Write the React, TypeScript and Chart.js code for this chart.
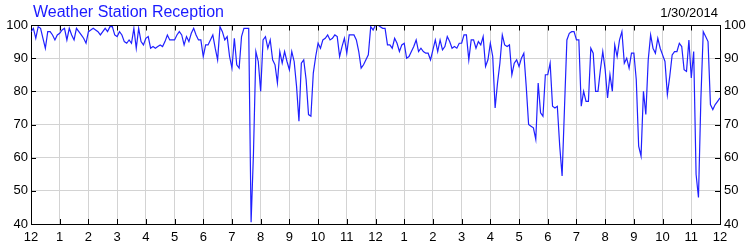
import React, { useEffect, useRef } from "react";
import { Chart, registerables } from "chart.js";

Chart.register(...registerables);

const chartTitle = "Weather Station Reception";
const chartDate = "1/30/2014";

// hour tick labels (midnight to midnight)
const hourLabels = ["12","1","2","3","4","5","6","7","8","9","10","11","12","1","2","3","4","5","6","7","8","9","10","11","12"];
const yTickValues = [40, 50, 60, 70, 80, 90, 100];

// reception %, one reading every 5 minutes
const midnightToSix = [
  98, 99, 96, 99.5, 99, 96, 93, 98, 98, 97, 95.5, 97,
  97.5, 98.5, 99, 95.5, 99, 97, 95.5, 99, 98, 97, 96, 94.5,
  98, 98.5, 99, 98.5, 98, 97, 98, 99, 98, 99.5, 99.5, 97,
  96.5, 98, 97, 95, 94.5, 95.5, 94.5, 99, 93, 99, 95, 94,
  96, 96.5, 93, 93.5, 93, 93.5, 94, 93.5, 95, 97, 95.5, 95.5,
  95.5, 97, 98, 97, 94, 96.5, 95, 97.5, 99, 97, 95.5, 95.5,
];
const sixToNoon = [
  90.5, 94, 94, 95.5, 97, 93, 89.5, 99.5, 98, 95.5, 96.5, 90.5,
  87, 96, 88, 87, 96.5, 99, 99, 99, 40.5, 61.5, 92, 89,
  80, 95.5, 96.5, 93, 95.5, 89.5, 88, 82.5, 92, 88.5, 92, 89,
  86.5, 92, 89, 81.5, 71, 88.5, 89.5, 83.5, 73, 72.5, 85.5, 90.5,
  94.5, 93, 95.5, 96, 97, 95.5, 96, 97, 96.5, 90.5, 93.5, 96,
  91.5, 97, 97, 97, 95.5, 92, 87, 88, 89.5, 91, 99.5, 98.5,
];
const noonToSix = [
  100, 100, 99.5, 99, 99, 94, 94, 93, 96, 94.5, 92, 94,
  94.5, 90, 90.5, 92, 93.5, 95.5, 92, 93, 92, 91.5, 91.5, 89.5,
  92.5, 95.5, 92, 95.5, 92.5, 93.5, 96.5, 95, 93, 93.5, 93, 94.5,
  94.5, 97, 97, 89.5, 95.5, 95.5, 93, 95, 94, 96.5, 87.5, 89.5,
  94.5, 90.5, 75, 82.5, 88.5, 97, 94, 93.5, 94, 85, 88.5, 89.5,
  87.5, 90, 91.5, 81.5, 70, 69.5, 69, 65.5, 82.5, 73.5, 72.5, 85,
];
const sixToMidnight = [
  85, 88.5, 75.5, 75, 75.5, 63.5, 54.5, 75, 95.5, 97.5, 98, 98,
  95.5, 95.5, 75.5, 80, 77, 77, 93, 91.5, 80, 80, 86.5, 92,
  86.5, 78, 85, 80, 94, 90.5, 95.5, 98, 88.5, 90, 87, 91.5,
  91.5, 83.5, 63.5, 60.5, 80, 73, 89.5, 97, 93, 91.5, 96, 93,
  91, 89, 79, 84.5, 91, 92, 92, 94.5, 93.5, 86.5, 86, 95.5,
  84, 92, 55, 48, 77.5, 98, 96.5, 95, 76, 74.5, 76, 77,
  78,
];

const FONT = '"Liberation Sans", Arial, sans-serif';

export default function App() {
  const ref = useRef<HTMLCanvasElement | null>(null);

  useEffect(() => {
    document.body.style.margin = "0";
    const canvas = ref.current;
    if (!canvas) return;
    const values = [...midnightToSix, ...sixToNoon, ...noonToSix, ...sixToMidnight];
    const points = values.map((v, i) => ({ x: i / 12, y: v }));

    const framePlugin = {
      id: "frame",
      afterDraw(chart: any) {
        const { ctx, chartArea, scales } = chart;
        const { left, right, top, bottom } = chartArea;
        ctx.save();
        ctx.strokeStyle = "#000";
        ctx.lineWidth = 1;
        ctx.beginPath();
        const t = Math.round(top) + 0.5;
        ctx.moveTo(Math.round(left), t);
        ctx.lineTo(Math.round(right) + 1, t);
        for (let h = 0; h <= 24; h++) {
          const x = Math.round(scales.x.getPixelForValue(h)) + 0.5;
          ctx.moveTo(x, Math.round(bottom));
          ctx.lineTo(x, Math.round(bottom) - 5);
          ctx.moveTo(x, t);
          ctx.lineTo(x, t + 5);
        }
        for (const v of yTickValues) {
          const y = Math.round(scales.y.getPixelForValue(v)) + 0.5;
          ctx.moveTo(Math.round(left), y);
          ctx.lineTo(Math.round(left) + 5, y);
          ctx.moveTo(Math.round(right), y);
          ctx.lineTo(Math.round(right) - 5, y);
        }
        ctx.stroke();
        ctx.font = `16px ${FONT}`;
        ctx.fillStyle = "#1a1aff";
        ctx.textAlign = "left";
        ctx.textBaseline = "alphabetic";
        ctx.fillText(chartTitle, 33, 17);
        ctx.font = `13px ${FONT}`;
        ctx.fillStyle = "#000";
        ctx.textAlign = "right";
        ctx.fillText(chartDate, 718, 17);
        ctx.restore();
      },
    };

    const chart = new Chart(canvas, {
      type: "line",
      data: {
        datasets: [
          {
            data: points,
            borderColor: "#2020ff",
            borderWidth: 1.2,
            pointRadius: 0,
            tension: 0,
            fill: false,
          },
        ],
      },
      options: {
        animation: false,
        responsive: false,
        layout: { padding: { top: 25, left: 0, right: 0, bottom: 0 } },
        plugins: { legend: { display: false }, tooltip: { enabled: false }, title: { display: false } },
        scales: {
          x: {
            type: "linear",
            min: 0,
            max: 24,
            afterFit: (s: any) => { s.height = 26; },
            afterBuildTicks: (s: any) => { s.ticks = hourLabels.map((_, i) => ({ value: i })); },
            ticks: {
              autoSkip: false,
              maxRotation: 0,
              padding: 6,
              color: "#000",
              font: { family: FONT, size: 13 },
              callback: (v: any) => hourLabels[Number(v)] ?? "",
            },
            grid: { color: "#d3d3d3", drawTicks: false },
            border: { display: true, color: "#000" },
          },
          y: {
            position: "left",
            min: 40,
            max: 100,
            afterFit: (s: any) => { s.width = 31; },
            afterBuildTicks: (s: any) => { s.ticks = yTickValues.map((v) => ({ value: v })); },
            ticks: { padding: 3, color: "#000", font: { family: FONT, size: 13 } },
            grid: { color: "#d3d3d3", drawTicks: false },
            border: { display: true, color: "#000" },
          },
          y2: {
            position: "right",
            min: 40,
            max: 100,
            afterFit: (s: any) => { s.width = 30; },
            afterBuildTicks: (s: any) => { s.ticks = yTickValues.map((v) => ({ value: v })); },
            ticks: { padding: 4, color: "#000", font: { family: FONT, size: 13 } },
            grid: { display: false, drawTicks: false },
            border: { display: true, color: "#000" },
          },
        },
      },
      plugins: [framePlugin],
    });
    return () => chart.destroy();
  }, []);

  return <canvas ref={ref} width={750} height={250} style={{ display: "block" }} />;
}
